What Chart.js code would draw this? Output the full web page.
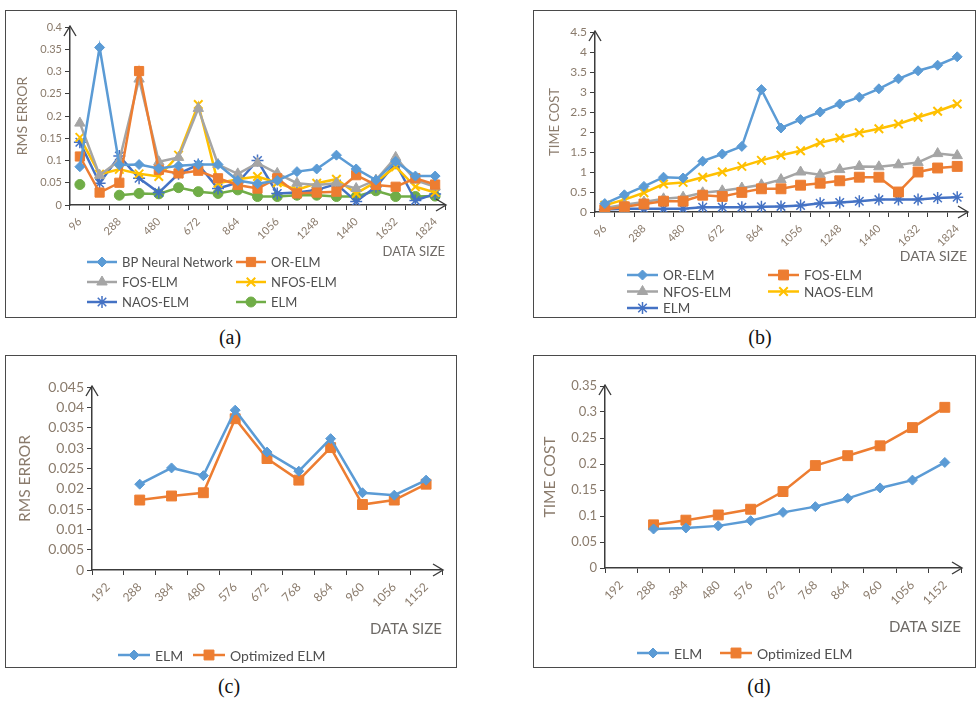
<!DOCTYPE html>
<html>
<head>
<meta charset="utf-8">
<script src="https://cdn.jsdelivr.net/npm/chart.js@4/dist/chart.umd.min.js"></script>
<style>
  body { margin: 0; width: 978px; height: 707px; background: #fff; position: relative; overflow: hidden; }
  .panel { position: absolute; border: 1px solid #4a4a4a; box-sizing: border-box; }
  .panel canvas { position: absolute; left: 0; top: 0; }
  .cap { position: absolute; font-family: "Liberation Serif", serif; font-size: 20px; color: #111; transform: translate(-50%, -50%); }
</style>
</head>
<body>
<div class="panel" style="left:5px;top:10px;width:452px;height:308px"><canvas id="chartA" width="450" height="306"></canvas></div>
<div class="panel" style="left:533px;top:10px;width:443px;height:308px"><canvas id="chartB" width="441" height="306"></canvas></div>
<div class="panel" style="left:5px;top:355px;width:452px;height:313px"><canvas id="chartC" width="450" height="311"></canvas></div>
<div class="panel" style="left:533px;top:355px;width:443px;height:313px"><canvas id="chartD" width="441" height="311"></canvas></div>
<div class="cap" style="left:230px;top:337px">(a)</div>
<div class="cap" style="left:760px;top:337px">(b)</div>
<div class="cap" style="left:229px;top:686px">(c)</div>
<div class="cap" style="left:759px;top:686px">(d)</div>

<script>
// data sizes (x categories)
const sizesAB = ["96", "192", "288", "384", "480", "576", "672", "768", "864", "960",
  "1056", "1152", "1248", "1344", "1440", "1536", "1632", "1728", "1824"];
const sizesCD = ["192", "288", "384", "480", "576", "672", "768", "864", "960", "1056", "1152"];

// (a) RMS error
const bpNetA = [0.086, 0.354, 0.09, 0.091, 0.082, 0.088, 0.091, 0.091, 0.055, 0.048,
  0.055, 0.075, 0.081, 0.112, 0.081, 0.056, 0.098, 0.065, 0.065];
const orElmA = [0.109, 0.028, 0.05, 0.301, 0.079, 0.071, 0.077, 0.06, 0.045, 0.037,
  0.06, 0.026, 0.028, 0.03, 0.067, 0.045, 0.041, 0.06, 0.046];
const fosElmA = [0.184, 0.067, 0.1, 0.283, 0.097, 0.107, 0.217, 0.091, 0.07, 0.094,
  0.071, 0.049, 0.045, 0.049, 0.037, 0.056, 0.107, 0.056, 0.041];
const nfosElmA = [0.152, 0.069, 0.08, 0.07, 0.064, 0.112, 0.226, 0.049, 0.058, 0.064,
  0.05, 0.034, 0.049, 0.058, 0.026, 0.052, 0.086, 0.041, 0.028];
const naosElmA = [0.141, 0.049, 0.11, 0.06, 0.028, 0.07, 0.091, 0.037, 0.05, 0.1,
  0.026, 0.028, 0.034, 0.047, 0.008, 0.041, 0.094, 0.01, 0.025];
const elmA = [0.046, null, 0.022, 0.026, 0.025, 0.039, 0.03, 0.026, 0.034, 0.019,
  0.019, 0.022, 0.022, 0.019, 0.019, 0.032, 0.019, 0.019, 0.02];

// (b) time cost
const orElmB = [0.21, 0.43, 0.64, 0.87, 0.85, 1.27, 1.45, 1.64, 3.06, 2.1,
  2.31, 2.5, 2.7, 2.87, 3.08, 3.33, 3.53, 3.67, 3.88];
const fosElmB = [0.06, 0.13, 0.2, 0.27, 0.27, 0.42, 0.39, 0.49, 0.58, 0.58,
  0.67, 0.72, 0.78, 0.87, 0.87, 0.5, 1.0, 1.1, 1.14];
const nfosElmB = [0.1, 0.18, 0.25, 0.33, 0.37, 0.48, 0.53, 0.6, 0.68, 0.81,
  1.0, 0.93, 1.06, 1.14, 1.13, 1.18, 1.24, 1.46, 1.41];
const naosElmB = [0.17, 0.31, 0.48, 0.7, 0.74, 0.87, 1.0, 1.14, 1.29, 1.42,
  1.53, 1.73, 1.85, 1.98, 2.08, 2.2, 2.37, 2.52, 2.7];
const elmB = [0.06, 0.08, 0.08, 0.08, 0.08, 0.12, 0.12, 0.12, 0.13, 0.14,
  0.16, 0.22, 0.24, 0.27, 0.31, 0.31, 0.31, 0.35, 0.37];

// (c) RMS error, ELM vs optimized
const elmC = [null, 0.0211, 0.0251, 0.0232, 0.0393, 0.029, 0.0243, 0.0323, 0.019, 0.0184, 0.0221];
const optElmC = [null, 0.0172, 0.0182, 0.019, 0.0372, 0.0274, 0.0221, 0.0301, 0.0161, 0.0172, 0.0211];

// (d) time cost, ELM vs optimized
const elmD = [null, 0.075, 0.077, 0.081, 0.091, 0.107, 0.118, 0.134, 0.154, 0.169, 0.203];
const optElmD = [null, 0.083, 0.092, 0.102, 0.113, 0.147, 0.197, 0.216, 0.235, 0.27, 0.309];

const FONT = "Lato, 'Open Sans', sans-serif";
const axisColor = "#3c3c3c";
const tickColor = "#8a7b6c";
const titleColor = "#6e6a66";
const legendColor = "#4f4f4f";

const C = {
  lightBlue: "#5B9BD5",
  orange: "#ED7D31",
  gray: "#A5A5A5",
  yellow: "#FFC000",
  darkBlue: "#4472C4",
  green: "#70AD47",
};

function series(label, data, color, style, radius, bw) {
  return {
    label: label,
    data: data,
    borderColor: color,
    backgroundColor: color,
    pointBackgroundColor: color,
    pointBorderColor: color,
    pointStyle: style,
    pointRadius: radius,
    pointBorderWidth: bw || 1,
    borderWidth: 2.5,
    tension: 0,
    spanGaps: false,
  };
}

function fmt(v) {
  return String(+Number(v).toFixed(4));
}

// arrows on the axes + the two column legend
const decor = {
  id: "decor",
  afterDraw(chart, args, opts) {
    const ctx = chart.ctx;
    const a = chart.chartArea;
    ctx.save();
    ctx.strokeStyle = axisColor;
    ctx.lineWidth = 1.4;
    ctx.beginPath();
    ctx.moveTo(a.right - 9, a.bottom - 6);
    ctx.lineTo(a.right + 1, a.bottom);
    ctx.lineTo(a.right - 9, a.bottom + 6);
    ctx.moveTo(a.left - 6, a.top + 9);
    ctx.lineTo(a.left, a.top - 1);
    ctx.lineTo(a.left + 6, a.top + 9);
    ctx.stroke();

    const lg = opts.legend;
    chart.data.datasets.forEach(function (ds, i) {
      const col = i % 2;
      const row = Math.floor(i / 2);
      const x = lg.x[col];
      const y = lg.y + row * lg.rowH;
      ctx.strokeStyle = ds.borderColor;
      ctx.lineWidth = ds.borderWidth;
      ctx.beginPath();
      ctx.moveTo(x, y);
      ctx.lineTo(x + lg.len, y);
      ctx.stroke();
      ctx.fillStyle = ds.pointBackgroundColor;
      ctx.lineWidth = ds.pointBorderWidth;
      Chart.helpers.drawPoint(ctx, {
        pointStyle: ds.pointStyle,
        radius: ds.pointRadius,
        rotation: 0,
        borderWidth: ds.pointBorderWidth,
      }, x + lg.len / 2, y);
      ctx.fillStyle = legendColor;
      ctx.font = lg.size + "px " + FONT;
      ctx.textAlign = "left";
      ctx.textBaseline = "middle";
      ctx.fillText(ds.label, x + lg.len + lg.gap, y + 1);
    });
    ctx.restore();
  },
};

function makeChart(id, p) {
  const skip = p.skip;
  return new Chart(document.getElementById(id), {
    type: "line",
    data: { labels: p.labels, datasets: p.datasets },
    options: {
      responsive: false,
      animation: false,
      events: [],
      layout: { padding: p.padding },
      plugins: {
        legend: { display: false },
        tooltip: { enabled: false },
        decor: { legend: p.legend },
      },
      scales: {
        x: {
          type: "category",
          offset: true,
          grid: { display: true, drawOnChartArea: false, drawTicks: true, tickLength: 5, color: axisColor, offset: true },
          border: { display: true, color: axisColor, width: 1.5 },
          ticks: {
            autoSkip: false,
            minRotation: 45,
            maxRotation: 45,
            padding: 5,
            color: tickColor,
            font: { family: FONT, size: p.xTick },
            callback: function (v, i) {
              return i % skip === 0 ? this.getLabelForValue(v) : "";
            },
          },
          title: {
            display: true,
            text: "DATA SIZE",
            align: "end",
            color: titleColor,
            font: { family: FONT, size: p.xTitle },
            padding: { top: 0, bottom: 0 },
          },
          afterFit: function (s) { s.height = p.xH; },
        },
        y: {
          min: 0,
          max: p.yMax,
          grid: { display: true, drawOnChartArea: false, drawTicks: true, tickLength: 5, color: axisColor },
          border: { display: true, color: axisColor, width: 1.5 },
          ticks: {
            stepSize: p.yStep,
            autoSkip: false,
            padding: 3,
            color: tickColor,
            font: { family: FONT, size: p.yTick },
            callback: fmt,
          },
          title: {
            display: true,
            text: p.yTitle,
            color: tickColor,
            font: { family: FONT, size: p.yTitleSize },
            padding: { top: p.yTitlePad, bottom: 0 },
          },
          afterFit: function (s) { s.width = p.yW; },
        },
      },
    },
    plugins: [decor],
  });
}

makeChart("chartA", {
  labels: sizesAB,
  skip: 2,
  datasets: [
    series("BP Neural Network", bpNetA, C.lightBlue, "rectRot", 5),
    series("OR-ELM", orElmA, C.orange, "rect", 6.5),
    series("FOS-ELM", fosElmA, C.gray, "triangle", 6),
    series("NFOS-ELM", nfosElmA, C.yellow, "crossRot", 6, 2),
    series("NAOS-ELM", naosElmA, C.darkBlue, "star", 6, 1.5),
    series("ELM", elmA, C.green, "circle", 5),
  ],
  padding: { left: 0, top: 16, right: 11, bottom: 57 },
  yMax: 0.4, yStep: 0.05, yW: 64, xH: 55,
  xTick: 11, yTick: 11, xTitle: 13,
  yTitle: "RMS ERROR", yTitleSize: 14, yTitlePad: 7.6,
  legend: { x: [81, 230], y: 251, rowH: 20, len: 30, gap: 5, size: 13 },
});

makeChart("chartB", {
  labels: sizesAB,
  skip: 2,
  datasets: [
    series("OR-ELM", orElmB, C.lightBlue, "rectRot", 5),
    series("FOS-ELM", fosElmB, C.orange, "rect", 7),
    series("NFOS-ELM", nfosElmB, C.gray, "triangle", 6),
    series("NAOS-ELM", naosElmB, C.yellow, "crossRot", 6, 2),
    series("ELM", elmB, C.darkBlue, "star", 6, 1.5),
  ],
  padding: { left: 0, top: 21, right: 7, bottom: 52 },
  yMax: 4.5, yStep: 0.5, yW: 61, xH: 53,
  xTick: 11, yTick: 12, xTitle: 14,
  yTitle: "TIME COST", yTitleSize: 13, yTitlePad: 13,
  legend: { x: [93, 234], y: 264, rowH: 16.5, len: 31, gap: 5, size: 13.5 },
});

makeChart("chartC", {
  labels: sizesCD,
  skip: 1,
  datasets: [
    series("ELM", elmC, C.lightBlue, "rectRot", 5),
    series("Optimized ELM", optElmC, C.orange, "rect", 7),
  ],
  padding: { left: 0, top: 31, right: 14, bottom: 29 },
  yMax: 0.045, yStep: 0.005, yW: 86, xH: 68,
  xTick: 12, yTick: 14, xTitle: 15,
  yTitle: "RMS ERROR", yTitleSize: 15.5, yTitlePad: 9.4,
  legend: { x: [112, 187], y: 299, rowH: 20, len: 32, gap: 5, size: 14 },
});

makeChart("chartD", {
  labels: sizesCD,
  skip: 1,
  datasets: [
    series("ELM", elmD, C.lightBlue, "rectRot", 5),
    series("Optimized ELM", optElmD, C.orange, "rect", 7),
  ],
  padding: { left: 0, top: 30, right: 14, bottom: 31 },
  yMax: 0.35, yStep: 0.05, yW: 71, xH: 68,
  xTick: 12, yTick: 13, xTitle: 15,
  yTitle: "TIME COST", yTitleSize: 15.5, yTitlePad: 7,
  legend: { x: [103, 186], y: 297, rowH: 20, len: 32, gap: 5, size: 14 },
});
</script>
</body>
</html>
